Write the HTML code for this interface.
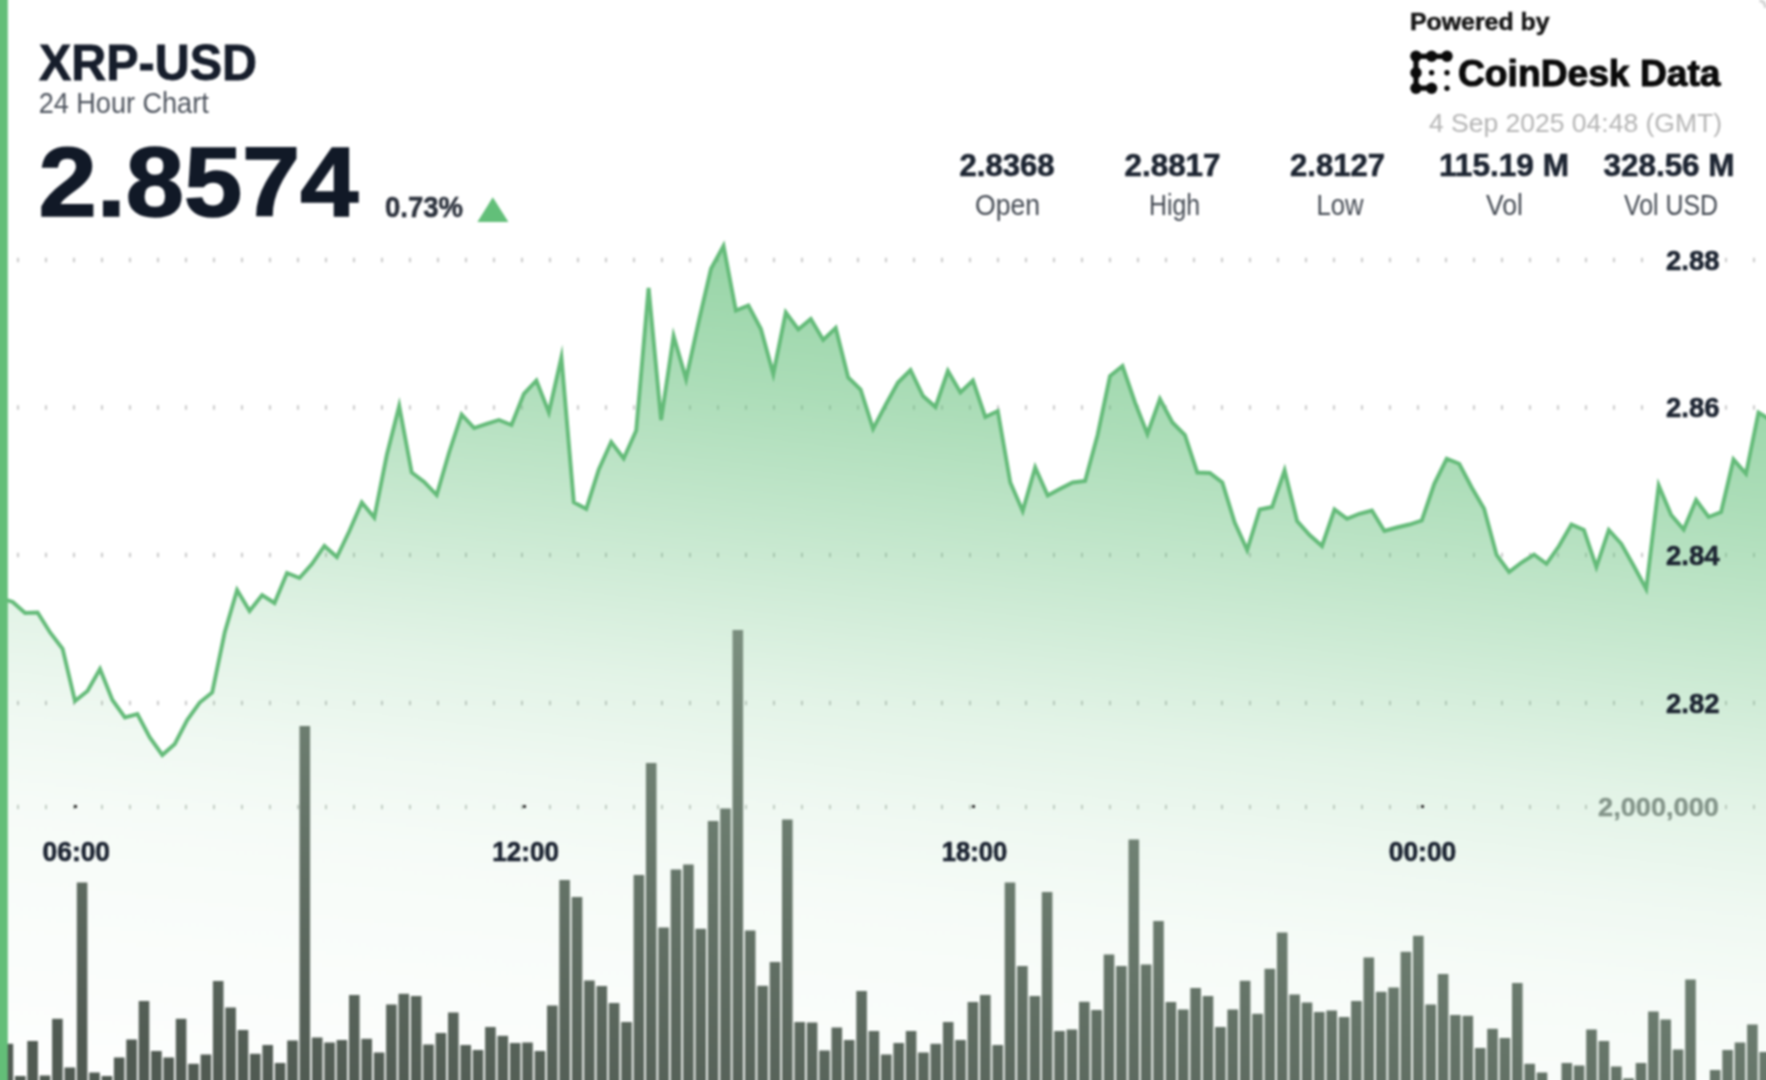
<!DOCTYPE html>
<html lang="en">
<head>
<meta charset="utf-8">
<title>XRP-USD 24 Hour Chart</title>
<style>
html,body{margin:0;padding:0;background:#fff;width:1766px;height:1080px;overflow:hidden;}
body{font-family:"Liberation Sans",sans-serif;}
#chart{position:relative;width:1766px;height:1080px;overflow:hidden;background:#fff;}
svg{position:absolute;left:-40px;top:-40px;display:block;filter:blur(1.1px);}
text{font-family:"Liberation Sans",sans-serif;}
.b{font-weight:700;}
</style>
</head>
<body>
<div id="chart">
<svg width="1846" height="1160" viewBox="-40 -40 1846 1160">
<defs>
<linearGradient id="ag" gradientUnits="userSpaceOnUse" x1="850" y1="240" x2="740.1" y2="1187.3">
<stop offset="0.0000" stop-color="#62bf79" stop-opacity="0.68"/>
<stop offset="0.1667" stop-color="#62bf79" stop-opacity="0.53"/>
<stop offset="0.3281" stop-color="#62bf79" stop-opacity="0.35"/>
<stop offset="0.4167" stop-color="#62bf79" stop-opacity="0.25"/>
<stop offset="0.4823" stop-color="#62bf79" stop-opacity="0.18"/>
<stop offset="0.5906" stop-color="#62bf79" stop-opacity="0.1"/>
<stop offset="0.6875" stop-color="#62bf79" stop-opacity="0.055"/>
<stop offset="0.7917" stop-color="#62bf79" stop-opacity="0.035"/>
<stop offset="0.8750" stop-color="#62bf79" stop-opacity="0.025"/>
<stop offset="1.0000" stop-color="#62bf79" stop-opacity="0.0"/>
</linearGradient>
<linearGradient id="bg" gradientUnits="userSpaceOnUse" x1="738" y1="640" x2="640.6" y2="1152.5">
<stop offset="0" stop-color="rgb(122,142,126)"/>
<stop offset="1" stop-color="rgb(80,90,82)"/>
</linearGradient>
</defs>
<rect x="-40" y="-40" width="1846" height="1160" fill="#fff"/>
<g fill="#9a9a9a" opacity="0.6"><rect x="17.1" y="257.8" width="1.8" height="4.4"/><rect x="45.1" y="257.8" width="1.8" height="4.4"/><rect x="73.1" y="257.8" width="1.8" height="4.4"/><rect x="101.1" y="257.8" width="1.8" height="4.4"/><rect x="129.1" y="257.8" width="1.8" height="4.4"/><rect x="157.1" y="257.8" width="1.8" height="4.4"/><rect x="185.1" y="257.8" width="1.8" height="4.4"/><rect x="213.1" y="257.8" width="1.8" height="4.4"/><rect x="241.1" y="257.8" width="1.8" height="4.4"/><rect x="269.1" y="257.8" width="1.8" height="4.4"/><rect x="297.1" y="257.8" width="1.8" height="4.4"/><rect x="325.1" y="257.8" width="1.8" height="4.4"/><rect x="353.1" y="257.8" width="1.8" height="4.4"/><rect x="381.1" y="257.8" width="1.8" height="4.4"/><rect x="409.1" y="257.8" width="1.8" height="4.4"/><rect x="437.1" y="257.8" width="1.8" height="4.4"/><rect x="465.1" y="257.8" width="1.8" height="4.4"/><rect x="493.1" y="257.8" width="1.8" height="4.4"/><rect x="521.1" y="257.8" width="1.8" height="4.4"/><rect x="549.1" y="257.8" width="1.8" height="4.4"/><rect x="577.1" y="257.8" width="1.8" height="4.4"/><rect x="605.1" y="257.8" width="1.8" height="4.4"/><rect x="633.1" y="257.8" width="1.8" height="4.4"/><rect x="661.1" y="257.8" width="1.8" height="4.4"/><rect x="689.1" y="257.8" width="1.8" height="4.4"/><rect x="717.1" y="257.8" width="1.8" height="4.4"/><rect x="745.1" y="257.8" width="1.8" height="4.4"/><rect x="773.1" y="257.8" width="1.8" height="4.4"/><rect x="801.1" y="257.8" width="1.8" height="4.4"/><rect x="829.1" y="257.8" width="1.8" height="4.4"/><rect x="857.1" y="257.8" width="1.8" height="4.4"/><rect x="885.1" y="257.8" width="1.8" height="4.4"/><rect x="913.1" y="257.8" width="1.8" height="4.4"/><rect x="941.1" y="257.8" width="1.8" height="4.4"/><rect x="969.1" y="257.8" width="1.8" height="4.4"/><rect x="997.1" y="257.8" width="1.8" height="4.4"/><rect x="1025.1" y="257.8" width="1.8" height="4.4"/><rect x="1053.1" y="257.8" width="1.8" height="4.4"/><rect x="1081.1" y="257.8" width="1.8" height="4.4"/><rect x="1109.1" y="257.8" width="1.8" height="4.4"/><rect x="1137.1" y="257.8" width="1.8" height="4.4"/><rect x="1165.1" y="257.8" width="1.8" height="4.4"/><rect x="1193.1" y="257.8" width="1.8" height="4.4"/><rect x="1221.1" y="257.8" width="1.8" height="4.4"/><rect x="1249.1" y="257.8" width="1.8" height="4.4"/><rect x="1277.1" y="257.8" width="1.8" height="4.4"/><rect x="1305.1" y="257.8" width="1.8" height="4.4"/><rect x="1333.1" y="257.8" width="1.8" height="4.4"/><rect x="1361.1" y="257.8" width="1.8" height="4.4"/><rect x="1389.1" y="257.8" width="1.8" height="4.4"/><rect x="1417.1" y="257.8" width="1.8" height="4.4"/><rect x="1445.1" y="257.8" width="1.8" height="4.4"/><rect x="1473.1" y="257.8" width="1.8" height="4.4"/><rect x="1501.1" y="257.8" width="1.8" height="4.4"/><rect x="1529.1" y="257.8" width="1.8" height="4.4"/><rect x="1557.1" y="257.8" width="1.8" height="4.4"/><rect x="1585.1" y="257.8" width="1.8" height="4.4"/><rect x="1613.1" y="257.8" width="1.8" height="4.4"/><rect x="1641.1" y="257.8" width="1.8" height="4.4"/><rect x="1725.1" y="257.8" width="1.8" height="4.4"/><rect x="1753.1" y="257.8" width="1.8" height="4.4"/><rect x="17.1" y="405.3" width="1.8" height="4.4"/><rect x="45.1" y="405.3" width="1.8" height="4.4"/><rect x="73.1" y="405.3" width="1.8" height="4.4"/><rect x="101.1" y="405.3" width="1.8" height="4.4"/><rect x="129.1" y="405.3" width="1.8" height="4.4"/><rect x="157.1" y="405.3" width="1.8" height="4.4"/><rect x="185.1" y="405.3" width="1.8" height="4.4"/><rect x="213.1" y="405.3" width="1.8" height="4.4"/><rect x="241.1" y="405.3" width="1.8" height="4.4"/><rect x="269.1" y="405.3" width="1.8" height="4.4"/><rect x="297.1" y="405.3" width="1.8" height="4.4"/><rect x="325.1" y="405.3" width="1.8" height="4.4"/><rect x="353.1" y="405.3" width="1.8" height="4.4"/><rect x="381.1" y="405.3" width="1.8" height="4.4"/><rect x="409.1" y="405.3" width="1.8" height="4.4"/><rect x="437.1" y="405.3" width="1.8" height="4.4"/><rect x="465.1" y="405.3" width="1.8" height="4.4"/><rect x="493.1" y="405.3" width="1.8" height="4.4"/><rect x="521.1" y="405.3" width="1.8" height="4.4"/><rect x="549.1" y="405.3" width="1.8" height="4.4"/><rect x="577.1" y="405.3" width="1.8" height="4.4"/><rect x="605.1" y="405.3" width="1.8" height="4.4"/><rect x="633.1" y="405.3" width="1.8" height="4.4"/><rect x="661.1" y="405.3" width="1.8" height="4.4"/><rect x="689.1" y="405.3" width="1.8" height="4.4"/><rect x="717.1" y="405.3" width="1.8" height="4.4"/><rect x="745.1" y="405.3" width="1.8" height="4.4"/><rect x="773.1" y="405.3" width="1.8" height="4.4"/><rect x="801.1" y="405.3" width="1.8" height="4.4"/><rect x="829.1" y="405.3" width="1.8" height="4.4"/><rect x="857.1" y="405.3" width="1.8" height="4.4"/><rect x="885.1" y="405.3" width="1.8" height="4.4"/><rect x="913.1" y="405.3" width="1.8" height="4.4"/><rect x="941.1" y="405.3" width="1.8" height="4.4"/><rect x="969.1" y="405.3" width="1.8" height="4.4"/><rect x="997.1" y="405.3" width="1.8" height="4.4"/><rect x="1025.1" y="405.3" width="1.8" height="4.4"/><rect x="1053.1" y="405.3" width="1.8" height="4.4"/><rect x="1081.1" y="405.3" width="1.8" height="4.4"/><rect x="1109.1" y="405.3" width="1.8" height="4.4"/><rect x="1137.1" y="405.3" width="1.8" height="4.4"/><rect x="1165.1" y="405.3" width="1.8" height="4.4"/><rect x="1193.1" y="405.3" width="1.8" height="4.4"/><rect x="1221.1" y="405.3" width="1.8" height="4.4"/><rect x="1249.1" y="405.3" width="1.8" height="4.4"/><rect x="1277.1" y="405.3" width="1.8" height="4.4"/><rect x="1305.1" y="405.3" width="1.8" height="4.4"/><rect x="1333.1" y="405.3" width="1.8" height="4.4"/><rect x="1361.1" y="405.3" width="1.8" height="4.4"/><rect x="1389.1" y="405.3" width="1.8" height="4.4"/><rect x="1417.1" y="405.3" width="1.8" height="4.4"/><rect x="1445.1" y="405.3" width="1.8" height="4.4"/><rect x="1473.1" y="405.3" width="1.8" height="4.4"/><rect x="1501.1" y="405.3" width="1.8" height="4.4"/><rect x="1529.1" y="405.3" width="1.8" height="4.4"/><rect x="1557.1" y="405.3" width="1.8" height="4.4"/><rect x="1585.1" y="405.3" width="1.8" height="4.4"/><rect x="1613.1" y="405.3" width="1.8" height="4.4"/><rect x="1641.1" y="405.3" width="1.8" height="4.4"/><rect x="1725.1" y="405.3" width="1.8" height="4.4"/><rect x="1753.1" y="405.3" width="1.8" height="4.4"/><rect x="17.1" y="552.8" width="1.8" height="4.4"/><rect x="45.1" y="552.8" width="1.8" height="4.4"/><rect x="73.1" y="552.8" width="1.8" height="4.4"/><rect x="101.1" y="552.8" width="1.8" height="4.4"/><rect x="129.1" y="552.8" width="1.8" height="4.4"/><rect x="157.1" y="552.8" width="1.8" height="4.4"/><rect x="185.1" y="552.8" width="1.8" height="4.4"/><rect x="213.1" y="552.8" width="1.8" height="4.4"/><rect x="241.1" y="552.8" width="1.8" height="4.4"/><rect x="269.1" y="552.8" width="1.8" height="4.4"/><rect x="297.1" y="552.8" width="1.8" height="4.4"/><rect x="325.1" y="552.8" width="1.8" height="4.4"/><rect x="353.1" y="552.8" width="1.8" height="4.4"/><rect x="381.1" y="552.8" width="1.8" height="4.4"/><rect x="409.1" y="552.8" width="1.8" height="4.4"/><rect x="437.1" y="552.8" width="1.8" height="4.4"/><rect x="465.1" y="552.8" width="1.8" height="4.4"/><rect x="493.1" y="552.8" width="1.8" height="4.4"/><rect x="521.1" y="552.8" width="1.8" height="4.4"/><rect x="549.1" y="552.8" width="1.8" height="4.4"/><rect x="577.1" y="552.8" width="1.8" height="4.4"/><rect x="605.1" y="552.8" width="1.8" height="4.4"/><rect x="633.1" y="552.8" width="1.8" height="4.4"/><rect x="661.1" y="552.8" width="1.8" height="4.4"/><rect x="689.1" y="552.8" width="1.8" height="4.4"/><rect x="717.1" y="552.8" width="1.8" height="4.4"/><rect x="745.1" y="552.8" width="1.8" height="4.4"/><rect x="773.1" y="552.8" width="1.8" height="4.4"/><rect x="801.1" y="552.8" width="1.8" height="4.4"/><rect x="829.1" y="552.8" width="1.8" height="4.4"/><rect x="857.1" y="552.8" width="1.8" height="4.4"/><rect x="885.1" y="552.8" width="1.8" height="4.4"/><rect x="913.1" y="552.8" width="1.8" height="4.4"/><rect x="941.1" y="552.8" width="1.8" height="4.4"/><rect x="969.1" y="552.8" width="1.8" height="4.4"/><rect x="997.1" y="552.8" width="1.8" height="4.4"/><rect x="1025.1" y="552.8" width="1.8" height="4.4"/><rect x="1053.1" y="552.8" width="1.8" height="4.4"/><rect x="1081.1" y="552.8" width="1.8" height="4.4"/><rect x="1109.1" y="552.8" width="1.8" height="4.4"/><rect x="1137.1" y="552.8" width="1.8" height="4.4"/><rect x="1165.1" y="552.8" width="1.8" height="4.4"/><rect x="1193.1" y="552.8" width="1.8" height="4.4"/><rect x="1221.1" y="552.8" width="1.8" height="4.4"/><rect x="1249.1" y="552.8" width="1.8" height="4.4"/><rect x="1277.1" y="552.8" width="1.8" height="4.4"/><rect x="1305.1" y="552.8" width="1.8" height="4.4"/><rect x="1333.1" y="552.8" width="1.8" height="4.4"/><rect x="1361.1" y="552.8" width="1.8" height="4.4"/><rect x="1389.1" y="552.8" width="1.8" height="4.4"/><rect x="1417.1" y="552.8" width="1.8" height="4.4"/><rect x="1445.1" y="552.8" width="1.8" height="4.4"/><rect x="1473.1" y="552.8" width="1.8" height="4.4"/><rect x="1501.1" y="552.8" width="1.8" height="4.4"/><rect x="1529.1" y="552.8" width="1.8" height="4.4"/><rect x="1557.1" y="552.8" width="1.8" height="4.4"/><rect x="1585.1" y="552.8" width="1.8" height="4.4"/><rect x="1613.1" y="552.8" width="1.8" height="4.4"/><rect x="1641.1" y="552.8" width="1.8" height="4.4"/><rect x="1725.1" y="552.8" width="1.8" height="4.4"/><rect x="1753.1" y="552.8" width="1.8" height="4.4"/><rect x="17.1" y="700.8" width="1.8" height="4.4"/><rect x="45.1" y="700.8" width="1.8" height="4.4"/><rect x="73.1" y="700.8" width="1.8" height="4.4"/><rect x="101.1" y="700.8" width="1.8" height="4.4"/><rect x="129.1" y="700.8" width="1.8" height="4.4"/><rect x="157.1" y="700.8" width="1.8" height="4.4"/><rect x="185.1" y="700.8" width="1.8" height="4.4"/><rect x="213.1" y="700.8" width="1.8" height="4.4"/><rect x="241.1" y="700.8" width="1.8" height="4.4"/><rect x="269.1" y="700.8" width="1.8" height="4.4"/><rect x="297.1" y="700.8" width="1.8" height="4.4"/><rect x="325.1" y="700.8" width="1.8" height="4.4"/><rect x="353.1" y="700.8" width="1.8" height="4.4"/><rect x="381.1" y="700.8" width="1.8" height="4.4"/><rect x="409.1" y="700.8" width="1.8" height="4.4"/><rect x="437.1" y="700.8" width="1.8" height="4.4"/><rect x="465.1" y="700.8" width="1.8" height="4.4"/><rect x="493.1" y="700.8" width="1.8" height="4.4"/><rect x="521.1" y="700.8" width="1.8" height="4.4"/><rect x="549.1" y="700.8" width="1.8" height="4.4"/><rect x="577.1" y="700.8" width="1.8" height="4.4"/><rect x="605.1" y="700.8" width="1.8" height="4.4"/><rect x="633.1" y="700.8" width="1.8" height="4.4"/><rect x="661.1" y="700.8" width="1.8" height="4.4"/><rect x="689.1" y="700.8" width="1.8" height="4.4"/><rect x="717.1" y="700.8" width="1.8" height="4.4"/><rect x="745.1" y="700.8" width="1.8" height="4.4"/><rect x="773.1" y="700.8" width="1.8" height="4.4"/><rect x="801.1" y="700.8" width="1.8" height="4.4"/><rect x="829.1" y="700.8" width="1.8" height="4.4"/><rect x="857.1" y="700.8" width="1.8" height="4.4"/><rect x="885.1" y="700.8" width="1.8" height="4.4"/><rect x="913.1" y="700.8" width="1.8" height="4.4"/><rect x="941.1" y="700.8" width="1.8" height="4.4"/><rect x="969.1" y="700.8" width="1.8" height="4.4"/><rect x="997.1" y="700.8" width="1.8" height="4.4"/><rect x="1025.1" y="700.8" width="1.8" height="4.4"/><rect x="1053.1" y="700.8" width="1.8" height="4.4"/><rect x="1081.1" y="700.8" width="1.8" height="4.4"/><rect x="1109.1" y="700.8" width="1.8" height="4.4"/><rect x="1137.1" y="700.8" width="1.8" height="4.4"/><rect x="1165.1" y="700.8" width="1.8" height="4.4"/><rect x="1193.1" y="700.8" width="1.8" height="4.4"/><rect x="1221.1" y="700.8" width="1.8" height="4.4"/><rect x="1249.1" y="700.8" width="1.8" height="4.4"/><rect x="1277.1" y="700.8" width="1.8" height="4.4"/><rect x="1305.1" y="700.8" width="1.8" height="4.4"/><rect x="1333.1" y="700.8" width="1.8" height="4.4"/><rect x="1361.1" y="700.8" width="1.8" height="4.4"/><rect x="1389.1" y="700.8" width="1.8" height="4.4"/><rect x="1417.1" y="700.8" width="1.8" height="4.4"/><rect x="1445.1" y="700.8" width="1.8" height="4.4"/><rect x="1473.1" y="700.8" width="1.8" height="4.4"/><rect x="1501.1" y="700.8" width="1.8" height="4.4"/><rect x="1529.1" y="700.8" width="1.8" height="4.4"/><rect x="1557.1" y="700.8" width="1.8" height="4.4"/><rect x="1585.1" y="700.8" width="1.8" height="4.4"/><rect x="1613.1" y="700.8" width="1.8" height="4.4"/><rect x="1641.1" y="700.8" width="1.8" height="4.4"/><rect x="1725.1" y="700.8" width="1.8" height="4.4"/><rect x="1753.1" y="700.8" width="1.8" height="4.4"/></g>
<path d="M-40,598 L0.2,598.0 L12.7,602.0 L25.1,613.0 L37.6,612.5 L50.1,632.5 L62.6,648.8 L75.0,701.0 L87.5,691.0 L100.0,669.0 L112.4,700.0 L124.9,717.5 L137.4,714.0 L149.8,737.5 L162.3,755.0 L174.8,744.0 L187.2,720.0 L199.7,702.5 L212.2,692.5 L224.7,632.5 L237.1,590.0 L249.6,611.0 L262.1,595.0 L274.5,603.0 L287.0,573.0 L299.5,578.0 L311.9,564.0 L324.4,546.0 L336.9,557.0 L349.4,531.0 L361.8,502.5 L374.3,517.5 L386.8,455.0 L399.2,406.0 L411.7,472.5 L424.2,482.0 L436.7,495.0 L449.1,452.5 L461.6,414.5 L474.1,428.0 L486.5,423.8 L499.0,420.0 L511.5,425.0 L523.9,393.8 L536.4,380.5 L548.9,412.5 L561.4,357.5 L573.8,502.2 L586.3,508.9 L598.8,469.5 L611.2,442.0 L623.7,458.5 L636.2,430.5 L648.6,288.0 L661.1,420.0 L673.6,336.0 L686.1,379.0 L698.5,322.5 L711.0,268.8 L723.5,246.0 L735.9,310.5 L748.4,305.5 L760.9,329.0 L773.3,374.0 L785.8,312.5 L798.3,329.5 L810.8,319.0 L823.2,340.0 L835.7,328.0 L848.2,377.5 L860.6,389.5 L873.1,428.8 L885.6,405.0 L898.0,382.5 L910.5,370.0 L923.0,396.0 L935.5,407.0 L947.9,371.0 L960.4,392.5 L972.9,380.5 L985.3,417.0 L997.8,411.0 L1010.3,482.5 L1022.7,511.0 L1035.2,467.5 L1047.7,495.5 L1060.2,488.8 L1072.6,482.5 L1085.1,481.0 L1097.6,435.0 L1110.0,376.0 L1122.5,366.0 L1135.0,402.5 L1147.4,434.0 L1159.9,399.0 L1172.4,422.5 L1184.9,435.0 L1197.3,472.5 L1209.8,473.0 L1222.3,482.5 L1234.7,522.5 L1247.2,550.0 L1259.7,509.5 L1272.1,507.0 L1284.6,470.5 L1297.1,521.0 L1309.6,535.0 L1322.0,546.0 L1334.5,509.5 L1347.0,518.8 L1359.4,513.8 L1371.9,510.5 L1384.4,531.0 L1396.8,527.5 L1409.3,524.5 L1421.8,520.5 L1434.3,483.8 L1446.7,458.8 L1459.2,463.8 L1471.7,487.5 L1484.1,508.8 L1496.6,555.0 L1509.1,572.0 L1521.5,562.5 L1534.0,554.5 L1546.5,563.8 L1559.0,546.0 L1571.4,524.5 L1583.9,530.0 L1596.4,567.0 L1608.8,530.0 L1621.3,543.8 L1633.8,566.0 L1646.2,589.0 L1658.7,485.5 L1671.2,515.0 L1683.7,529.5 L1696.1,500.0 L1708.6,517.0 L1721.1,512.0 L1733.5,459.5 L1746.0,473.8 L1758.5,412.5 L1770.9,420.0 L1810,420 L1810,1120 L-40,1120 Z" fill="url(#ag)"/>
<g fill="#8d9d90" opacity="0.55"><rect x="17.1" y="804.8" width="1.8" height="4.4"/><rect x="45.1" y="804.8" width="1.8" height="4.4"/><rect x="73.1" y="804.8" width="1.8" height="4.4"/><rect x="101.1" y="804.8" width="1.8" height="4.4"/><rect x="129.1" y="804.8" width="1.8" height="4.4"/><rect x="157.1" y="804.8" width="1.8" height="4.4"/><rect x="185.1" y="804.8" width="1.8" height="4.4"/><rect x="213.1" y="804.8" width="1.8" height="4.4"/><rect x="241.1" y="804.8" width="1.8" height="4.4"/><rect x="269.1" y="804.8" width="1.8" height="4.4"/><rect x="297.1" y="804.8" width="1.8" height="4.4"/><rect x="325.1" y="804.8" width="1.8" height="4.4"/><rect x="353.1" y="804.8" width="1.8" height="4.4"/><rect x="381.1" y="804.8" width="1.8" height="4.4"/><rect x="409.1" y="804.8" width="1.8" height="4.4"/><rect x="437.1" y="804.8" width="1.8" height="4.4"/><rect x="465.1" y="804.8" width="1.8" height="4.4"/><rect x="493.1" y="804.8" width="1.8" height="4.4"/><rect x="521.1" y="804.8" width="1.8" height="4.4"/><rect x="549.1" y="804.8" width="1.8" height="4.4"/><rect x="577.1" y="804.8" width="1.8" height="4.4"/><rect x="605.1" y="804.8" width="1.8" height="4.4"/><rect x="633.1" y="804.8" width="1.8" height="4.4"/><rect x="661.1" y="804.8" width="1.8" height="4.4"/><rect x="689.1" y="804.8" width="1.8" height="4.4"/><rect x="717.1" y="804.8" width="1.8" height="4.4"/><rect x="745.1" y="804.8" width="1.8" height="4.4"/><rect x="773.1" y="804.8" width="1.8" height="4.4"/><rect x="801.1" y="804.8" width="1.8" height="4.4"/><rect x="829.1" y="804.8" width="1.8" height="4.4"/><rect x="857.1" y="804.8" width="1.8" height="4.4"/><rect x="885.1" y="804.8" width="1.8" height="4.4"/><rect x="913.1" y="804.8" width="1.8" height="4.4"/><rect x="941.1" y="804.8" width="1.8" height="4.4"/><rect x="969.1" y="804.8" width="1.8" height="4.4"/><rect x="997.1" y="804.8" width="1.8" height="4.4"/><rect x="1025.1" y="804.8" width="1.8" height="4.4"/><rect x="1053.1" y="804.8" width="1.8" height="4.4"/><rect x="1081.1" y="804.8" width="1.8" height="4.4"/><rect x="1109.1" y="804.8" width="1.8" height="4.4"/><rect x="1137.1" y="804.8" width="1.8" height="4.4"/><rect x="1165.1" y="804.8" width="1.8" height="4.4"/><rect x="1193.1" y="804.8" width="1.8" height="4.4"/><rect x="1221.1" y="804.8" width="1.8" height="4.4"/><rect x="1249.1" y="804.8" width="1.8" height="4.4"/><rect x="1277.1" y="804.8" width="1.8" height="4.4"/><rect x="1305.1" y="804.8" width="1.8" height="4.4"/><rect x="1333.1" y="804.8" width="1.8" height="4.4"/><rect x="1361.1" y="804.8" width="1.8" height="4.4"/><rect x="1389.1" y="804.8" width="1.8" height="4.4"/><rect x="1417.1" y="804.8" width="1.8" height="4.4"/><rect x="1445.1" y="804.8" width="1.8" height="4.4"/><rect x="1473.1" y="804.8" width="1.8" height="4.4"/><rect x="1501.1" y="804.8" width="1.8" height="4.4"/><rect x="1529.1" y="804.8" width="1.8" height="4.4"/><rect x="1557.1" y="804.8" width="1.8" height="4.4"/><rect x="1585.1" y="804.8" width="1.8" height="4.4"/><rect x="1725.1" y="804.8" width="1.8" height="4.4"/><rect x="1753.1" y="804.8" width="1.8" height="4.4"/></g>
<path d="M0.2,598.0 L12.7,602.0 L25.1,613.0 L37.6,612.5 L50.1,632.5 L62.6,648.8 L75.0,701.0 L87.5,691.0 L100.0,669.0 L112.4,700.0 L124.9,717.5 L137.4,714.0 L149.8,737.5 L162.3,755.0 L174.8,744.0 L187.2,720.0 L199.7,702.5 L212.2,692.5 L224.7,632.5 L237.1,590.0 L249.6,611.0 L262.1,595.0 L274.5,603.0 L287.0,573.0 L299.5,578.0 L311.9,564.0 L324.4,546.0 L336.9,557.0 L349.4,531.0 L361.8,502.5 L374.3,517.5 L386.8,455.0 L399.2,406.0 L411.7,472.5 L424.2,482.0 L436.7,495.0 L449.1,452.5 L461.6,414.5 L474.1,428.0 L486.5,423.8 L499.0,420.0 L511.5,425.0 L523.9,393.8 L536.4,380.5 L548.9,412.5 L561.4,357.5 L573.8,502.2 L586.3,508.9 L598.8,469.5 L611.2,442.0 L623.7,458.5 L636.2,430.5 L648.6,288.0 L661.1,420.0 L673.6,336.0 L686.1,379.0 L698.5,322.5 L711.0,268.8 L723.5,246.0 L735.9,310.5 L748.4,305.5 L760.9,329.0 L773.3,374.0 L785.8,312.5 L798.3,329.5 L810.8,319.0 L823.2,340.0 L835.7,328.0 L848.2,377.5 L860.6,389.5 L873.1,428.8 L885.6,405.0 L898.0,382.5 L910.5,370.0 L923.0,396.0 L935.5,407.0 L947.9,371.0 L960.4,392.5 L972.9,380.5 L985.3,417.0 L997.8,411.0 L1010.3,482.5 L1022.7,511.0 L1035.2,467.5 L1047.7,495.5 L1060.2,488.8 L1072.6,482.5 L1085.1,481.0 L1097.6,435.0 L1110.0,376.0 L1122.5,366.0 L1135.0,402.5 L1147.4,434.0 L1159.9,399.0 L1172.4,422.5 L1184.9,435.0 L1197.3,472.5 L1209.8,473.0 L1222.3,482.5 L1234.7,522.5 L1247.2,550.0 L1259.7,509.5 L1272.1,507.0 L1284.6,470.5 L1297.1,521.0 L1309.6,535.0 L1322.0,546.0 L1334.5,509.5 L1347.0,518.8 L1359.4,513.8 L1371.9,510.5 L1384.4,531.0 L1396.8,527.5 L1409.3,524.5 L1421.8,520.5 L1434.3,483.8 L1446.7,458.8 L1459.2,463.8 L1471.7,487.5 L1484.1,508.8 L1496.6,555.0 L1509.1,572.0 L1521.5,562.5 L1534.0,554.5 L1546.5,563.8 L1559.0,546.0 L1571.4,524.5 L1583.9,530.0 L1596.4,567.0 L1608.8,530.0 L1621.3,543.8 L1633.8,566.0 L1646.2,589.0 L1658.7,485.5 L1671.2,515.0 L1683.7,529.5 L1696.1,500.0 L1708.6,517.0 L1721.1,512.0 L1733.5,459.5 L1746.0,473.8 L1758.5,412.5 L1770.9,420.0" fill="none" stroke="#64bb79" stroke-width="3.9" stroke-linejoin="miter" stroke-miterlimit="8" stroke-linecap="butt"/>
<g fill="url(#bg)"><rect x="2.6" y="1043.8" width="10.6" height="76.2"/><rect x="15.0" y="1076.0" width="10.6" height="44.0"/><rect x="27.3" y="1041.0" width="10.6" height="79.0"/><rect x="39.7" y="1075.5" width="10.6" height="44.5"/><rect x="52.1" y="1018.8" width="10.6" height="101.2"/><rect x="64.5" y="1067.5" width="10.6" height="52.5"/><rect x="76.8" y="882.5" width="10.6" height="237.5"/><rect x="89.2" y="1072.5" width="10.6" height="47.5"/><rect x="101.6" y="1076.0" width="10.6" height="44.0"/><rect x="113.9" y="1057.5" width="10.6" height="62.5"/><rect x="126.3" y="1039.5" width="10.6" height="80.5"/><rect x="138.7" y="1001.0" width="10.6" height="119.0"/><rect x="151.1" y="1051.0" width="10.6" height="69.0"/><rect x="163.4" y="1057.5" width="10.6" height="62.5"/><rect x="175.8" y="1018.8" width="10.6" height="101.2"/><rect x="188.2" y="1063.8" width="10.6" height="56.2"/><rect x="200.6" y="1054.5" width="10.6" height="65.5"/><rect x="212.9" y="981.0" width="10.6" height="139.0"/><rect x="225.3" y="1007.5" width="10.6" height="112.5"/><rect x="237.7" y="1030.0" width="10.6" height="90.0"/><rect x="250.0" y="1053.8" width="10.6" height="66.2"/><rect x="262.4" y="1045.0" width="10.6" height="75.0"/><rect x="274.8" y="1063.0" width="10.6" height="57.0"/><rect x="287.2" y="1040.5" width="10.6" height="79.5"/><rect x="299.5" y="726.0" width="10.6" height="394.0"/><rect x="311.9" y="1037.5" width="10.6" height="82.5"/><rect x="324.3" y="1042.5" width="10.6" height="77.5"/><rect x="336.6" y="1040.0" width="10.6" height="80.0"/><rect x="349.0" y="995.0" width="10.6" height="125.0"/><rect x="361.4" y="1038.8" width="10.6" height="81.2"/><rect x="373.8" y="1052.5" width="10.6" height="67.5"/><rect x="386.1" y="1004.5" width="10.6" height="115.5"/><rect x="398.5" y="993.8" width="10.6" height="126.2"/><rect x="410.9" y="996.0" width="10.6" height="124.0"/><rect x="423.2" y="1044.5" width="10.6" height="75.5"/><rect x="435.6" y="1033.0" width="10.6" height="87.0"/><rect x="448.0" y="1012.5" width="10.6" height="107.5"/><rect x="460.4" y="1045.0" width="10.6" height="75.0"/><rect x="472.7" y="1050.0" width="10.6" height="70.0"/><rect x="485.1" y="1027.0" width="10.6" height="93.0"/><rect x="497.5" y="1035.8" width="10.6" height="84.2"/><rect x="509.9" y="1043.0" width="10.6" height="77.0"/><rect x="522.2" y="1042.5" width="10.6" height="77.5"/><rect x="534.6" y="1051.0" width="10.6" height="69.0"/><rect x="547.0" y="1005.5" width="10.6" height="114.5"/><rect x="559.3" y="880.0" width="10.6" height="240.0"/><rect x="571.7" y="897.0" width="10.6" height="223.0"/><rect x="584.1" y="980.5" width="10.6" height="139.5"/><rect x="596.5" y="986.0" width="10.6" height="134.0"/><rect x="608.8" y="1003.0" width="10.6" height="117.0"/><rect x="621.2" y="1022.0" width="10.6" height="98.0"/><rect x="633.6" y="875.0" width="10.6" height="245.0"/><rect x="645.9" y="763.0" width="10.6" height="357.0"/><rect x="658.3" y="927.5" width="10.6" height="192.5"/><rect x="670.7" y="869.5" width="10.6" height="250.5"/><rect x="683.1" y="864.5" width="10.6" height="255.5"/><rect x="695.4" y="928.8" width="10.6" height="191.2"/><rect x="707.8" y="821.0" width="10.6" height="299.0"/><rect x="720.2" y="808.5" width="10.6" height="311.5"/><rect x="732.5" y="630.0" width="10.6" height="490.0"/><rect x="744.9" y="930.5" width="10.6" height="189.5"/><rect x="757.3" y="985.8" width="10.6" height="134.2"/><rect x="769.7" y="962.0" width="10.6" height="158.0"/><rect x="782.0" y="819.5" width="10.6" height="300.5"/><rect x="794.4" y="1022.0" width="10.6" height="98.0"/><rect x="806.8" y="1022.5" width="10.6" height="97.5"/><rect x="819.2" y="1050.5" width="10.6" height="69.5"/><rect x="831.5" y="1027.5" width="10.6" height="92.5"/><rect x="843.9" y="1040.0" width="10.6" height="80.0"/><rect x="856.3" y="991.0" width="10.6" height="129.0"/><rect x="868.6" y="1031.0" width="10.6" height="89.0"/><rect x="881.0" y="1054.5" width="10.6" height="65.5"/><rect x="893.4" y="1043.0" width="10.6" height="77.0"/><rect x="905.8" y="1031.0" width="10.6" height="89.0"/><rect x="918.1" y="1052.5" width="10.6" height="67.5"/><rect x="930.5" y="1043.8" width="10.6" height="76.2"/><rect x="942.9" y="1022.0" width="10.6" height="98.0"/><rect x="955.2" y="1040.0" width="10.6" height="80.0"/><rect x="967.6" y="1002.0" width="10.6" height="118.0"/><rect x="980.0" y="995.0" width="10.6" height="125.0"/><rect x="992.4" y="1045.0" width="10.6" height="75.0"/><rect x="1004.7" y="882.5" width="10.6" height="237.5"/><rect x="1017.1" y="966.0" width="10.6" height="154.0"/><rect x="1029.5" y="996.0" width="10.6" height="124.0"/><rect x="1041.8" y="892.0" width="10.6" height="228.0"/><rect x="1054.2" y="1031.0" width="10.6" height="89.0"/><rect x="1066.6" y="1029.5" width="10.6" height="90.5"/><rect x="1079.0" y="1001.8" width="10.6" height="118.2"/><rect x="1091.3" y="1010.0" width="10.6" height="110.0"/><rect x="1103.7" y="954.5" width="10.6" height="165.5"/><rect x="1116.1" y="966.0" width="10.6" height="154.0"/><rect x="1128.5" y="839.5" width="10.6" height="280.5"/><rect x="1140.8" y="964.5" width="10.6" height="155.5"/><rect x="1153.2" y="921.0" width="10.6" height="199.0"/><rect x="1165.6" y="1002.0" width="10.6" height="118.0"/><rect x="1177.9" y="1009.5" width="10.6" height="110.5"/><rect x="1190.3" y="988.0" width="10.6" height="132.0"/><rect x="1202.7" y="996.0" width="10.6" height="124.0"/><rect x="1215.1" y="1027.0" width="10.6" height="93.0"/><rect x="1227.4" y="1009.5" width="10.6" height="110.5"/><rect x="1239.8" y="980.8" width="10.6" height="139.2"/><rect x="1252.2" y="1013.8" width="10.6" height="106.2"/><rect x="1264.5" y="968.8" width="10.6" height="151.2"/><rect x="1276.9" y="932.5" width="10.6" height="187.5"/><rect x="1289.3" y="994.5" width="10.6" height="125.5"/><rect x="1301.7" y="1002.5" width="10.6" height="117.5"/><rect x="1314.0" y="1012.0" width="10.6" height="108.0"/><rect x="1326.4" y="1010.5" width="10.6" height="109.5"/><rect x="1338.8" y="1017.0" width="10.6" height="103.0"/><rect x="1351.1" y="1001.0" width="10.6" height="119.0"/><rect x="1363.5" y="957.5" width="10.6" height="162.5"/><rect x="1375.9" y="991.8" width="10.6" height="128.2"/><rect x="1388.3" y="987.5" width="10.6" height="132.5"/><rect x="1400.6" y="951.8" width="10.6" height="168.2"/><rect x="1413.0" y="935.8" width="10.6" height="184.2"/><rect x="1425.4" y="1004.5" width="10.6" height="115.5"/><rect x="1437.8" y="974.0" width="10.6" height="146.0"/><rect x="1450.1" y="1015.0" width="10.6" height="105.0"/><rect x="1462.5" y="1015.8" width="10.6" height="104.2"/><rect x="1474.9" y="1048.0" width="10.6" height="72.0"/><rect x="1487.2" y="1028.8" width="10.6" height="91.2"/><rect x="1499.6" y="1038.0" width="10.6" height="82.0"/><rect x="1512.0" y="983.0" width="10.6" height="137.0"/><rect x="1524.4" y="1063.8" width="10.6" height="56.2"/><rect x="1536.7" y="1072.5" width="10.6" height="47.5"/><rect x="1561.5" y="1063.0" width="10.6" height="57.0"/><rect x="1573.8" y="1065.5" width="10.6" height="54.5"/><rect x="1586.2" y="1029.5" width="10.6" height="90.5"/><rect x="1598.6" y="1041.0" width="10.6" height="79.0"/><rect x="1611.0" y="1066.5" width="10.6" height="53.5"/><rect x="1623.3" y="1078.3" width="10.6" height="41.7"/><rect x="1635.7" y="1063.0" width="10.6" height="57.0"/><rect x="1648.1" y="1011.5" width="10.6" height="108.5"/><rect x="1660.4" y="1019.5" width="10.6" height="100.5"/><rect x="1672.8" y="1049.5" width="10.6" height="70.5"/><rect x="1685.2" y="979.5" width="10.6" height="140.5"/><rect x="1709.9" y="1070.0" width="10.6" height="50.0"/><rect x="1722.3" y="1050.0" width="10.6" height="70.0"/><rect x="1734.7" y="1042.5" width="10.6" height="77.5"/><rect x="1747.1" y="1024.5" width="10.6" height="95.5"/><rect x="1759.4" y="1052.0" width="10.6" height="68.0"/></g>
<rect x="-40" y="-40" width="47.8" height="1160" fill="#63be78"/>

<path d="M1759.5,0.5 Q1765.5,1.5 1765.5,8" fill="none" stroke="#d4d4d4" stroke-width="3"/>
<!-- header -->
<text class="b" x="39" y="79.5" font-size="50" fill="#161d2b" stroke="#161d2b" stroke-width="0.8" textLength="218" lengthAdjust="spacingAndGlyphs">XRP-USD</text>
<text x="38.7" y="112.8" font-size="29.2" fill="#4d535d" textLength="170" lengthAdjust="spacingAndGlyphs">24 Hour Chart</text>
<text class="b" x="38.5" y="216.2" font-size="98.5" fill="#111927" stroke="#111927" stroke-width="1.6" textLength="320" lengthAdjust="spacingAndGlyphs">2.8574</text>
<text class="b" x="385" y="217.1" font-size="28.7" fill="#2b313c" stroke="#2b313c" stroke-width="0.5" textLength="78" lengthAdjust="spacingAndGlyphs">0.73%</text>
<path d="M477.4,222 L492.8,197.2 L508.4,222 Z" fill="#62bf79"/>

<!-- brand -->
<text class="b" x="1410" y="30" font-size="24.2" fill="#161616" stroke="#161616" stroke-width="0.5" textLength="139.5" lengthAdjust="spacingAndGlyphs">Powered by</text>
<g id="logo" fill="#0a0a0a" stroke="#0a0a0a">
<path d="M1447,56.3 H1416 V88.2 H1431.6" fill="none" stroke-width="5.2" stroke-linecap="round" stroke-linejoin="round"/>
<circle cx="1416" cy="56.3" r="5.7" stroke="none"/><circle cx="1431.6" cy="56.3" r="5.7" stroke="none"/><circle cx="1447" cy="56.3" r="5.7" stroke="none"/>
<circle cx="1416" cy="72.8" r="5.7" stroke="none"/><circle cx="1416" cy="88.2" r="5.7" stroke="none"/><circle cx="1431.6" cy="88.2" r="5.7" stroke="none"/>
<circle cx="1431.6" cy="72.8" r="2.7" stroke="none"/><circle cx="1447" cy="72.8" r="2.7" stroke="none"/><circle cx="1447" cy="88.2" r="2.7" stroke="none"/>
</g>
<text class="b" x="1458" y="85.6" font-size="37.8" fill="#0a0a0a" stroke="#0a0a0a" stroke-width="1" textLength="262.5" lengthAdjust="spacingAndGlyphs">CoinDesk Data</text>
<text x="1429" y="132" font-size="26" fill="#b4b4b4" textLength="293" lengthAdjust="spacingAndGlyphs">4 Sep 2025 04:48 (GMT)</text>

<!-- stats -->
<g class="b" font-size="30.5" fill="#1c2431" stroke="#1c2431" stroke-width="0.6" text-anchor="middle">
<text x="1007" y="176.3" textLength="95" lengthAdjust="spacingAndGlyphs">2.8368</text>
<text x="1172.5" y="176.3" textLength="96" lengthAdjust="spacingAndGlyphs">2.8817</text>
<text x="1337.5" y="176.3" textLength="95" lengthAdjust="spacingAndGlyphs">2.8127</text>
<text x="1504" y="176.3" textLength="130" lengthAdjust="spacingAndGlyphs">115.19 M</text>
<text x="1669" y="176.3" textLength="131" lengthAdjust="spacingAndGlyphs">328.56 M</text>
</g>
<g font-size="28.8" fill="#434952" text-anchor="middle">
<text x="1007.5" y="214.8" textLength="65" lengthAdjust="spacingAndGlyphs">Open</text>
<text x="1174.5" y="214.8" textLength="51" lengthAdjust="spacingAndGlyphs">High</text>
<text x="1340" y="214.8" textLength="47" lengthAdjust="spacingAndGlyphs">Low</text>
<text x="1504.5" y="214.8" textLength="37" lengthAdjust="spacingAndGlyphs">Vol</text>
<text x="1671" y="214.8" textLength="94" lengthAdjust="spacingAndGlyphs">Vol USD</text>
</g>

<!-- axis labels -->
<g class="b" font-size="28" fill="#1c2431" stroke="#1c2431" stroke-width="0.6" text-anchor="end">
<text x="1719.5" y="269.8" textLength="53.5" lengthAdjust="spacingAndGlyphs">2.88</text>
<text x="1719.5" y="417.3" textLength="53.5" lengthAdjust="spacingAndGlyphs">2.86</text>
<text x="1719.5" y="564.8" textLength="53.5" lengthAdjust="spacingAndGlyphs">2.84</text>
<text x="1719.5" y="712.8" textLength="53.5" lengthAdjust="spacingAndGlyphs">2.82</text>
</g>
<text x="1719" y="815.8" font-size="26.7" fill="#84958a" stroke="#84958a" stroke-width="0.4" text-anchor="end" textLength="121" lengthAdjust="spacingAndGlyphs" style="font-weight:700">2,000,000</text>
<g class="b" font-size="27.4" fill="#1a2230" stroke="#1a2230" stroke-width="0.6" text-anchor="middle">
<text x="76.3" y="860.6" textLength="67.5" lengthAdjust="spacingAndGlyphs">06:00</text>
<text x="525.6" y="860.6" textLength="66.5" lengthAdjust="spacingAndGlyphs">12:00</text>
<text x="974.5" y="860.6" textLength="65.5" lengthAdjust="spacingAndGlyphs">18:00</text>
<text x="1422.5" y="860.6" textLength="67.5" lengthAdjust="spacingAndGlyphs">00:00</text>
</g>
<g fill="#333">
<rect x="74" y="805" width="3" height="3"/><rect x="523" y="805" width="3" height="3"/><rect x="972" y="805" width="3" height="3"/><rect x="1421" y="805" width="3" height="3"/>
</g>
</svg>
</div>
</body>
</html>
